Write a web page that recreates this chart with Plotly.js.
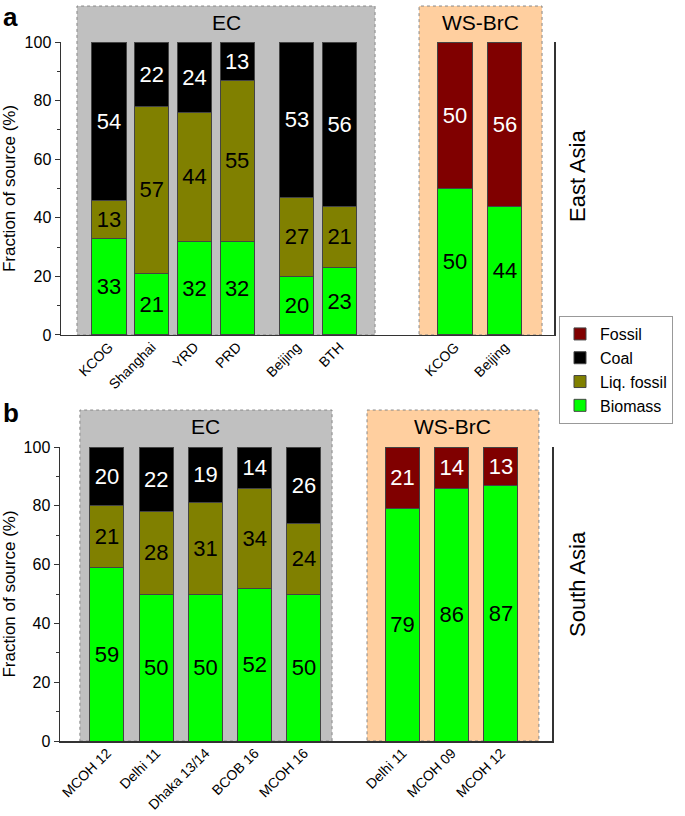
<!DOCTYPE html>
<html>
<head>
<meta charset="utf-8">
<script src="https://cdn.plot.ly/plotly-3.0.1.min.js"></script>
<style>body{margin:0;background:#fff}#plotArea{width:685px;height:816px}</style>
</head>
<body>
<div id="plotArea"></div>
<script>
// panel a: East Asia
var ecSitesA = ["KCOG", "Shanghai", "YRD", "PRD", "Beijing", "BTH"];
var ecBiomassA = [33, 21, 32, 32, 20, 23];
var ecLiqFossilA = [13, 57, 44, 55, 27, 21];
var ecCoalA = [54, 22, 24, 13, 53, 56];
var wsSitesA = ["KCOG", "Beijing"];
var wsBiomassA = [50, 44];
var wsFossilA = [50, 56];

// panel b: South Asia
var ecSitesB = ["MCOH 12", "Delhi 11", "Dhaka 13/14", "BCOB 16", "MCOH 16"];
var ecBiomassB = [59, 50, 50, 52, 50];
var ecLiqFossilB = [21, 28, 31, 34, 24];
var ecCoalB = [20, 22, 19, 14, 26];
var wsSitesB = ["Delhi 11", "MCOH 09", "MCOH 12"];
var wsBiomassB = [79, 86, 87];
var wsFossilB = [21, 14, 13];

var colors = {Fossil: "#800000", Coal: "#000000", "Liq. fossil": "#808000", Biomass: "#00ff00"};
var txtColors = {Fossil: "#ffffff", Coal: "#ffffff", "Liq. fossil": "#000000", Biomass: "#000000"};
var FONT = "Liberation Sans, Arial, sans-serif";

// bar slots along the x axis (gaps between the groups)
var posEcA = ecSitesA.map(function (d, i) { return i + (i >= 4 ? 0.4 : 0); });
var posWsA = wsSitesA.map(function (d, i) { return 8.1 + 1.17 * i; });
var posEcB = ecSitesB.map(function (d, i) { return i; });
var posWsB = wsSitesB.map(function (d, i) { return 6 + i; });

function bar(name, x, y, xa, ya, w, legend) {
  return {
    type: "bar", name: name, x: x, y: y, xaxis: xa, yaxis: ya, width: w,
    marker: {color: colors[name], line: {color: "#444", width: 1}},
    text: y.map(String), textposition: "inside", insidetextanchor: "middle",
    textangle: 0, constraintext: "none",
    textfont: {family: FONT, size: 22, color: txtColors[name]},
    showlegend: legend, legendgroup: name, hoverinfo: "x+y+name"
  };
}

var data = [
  bar("Biomass", posEcA.concat(posWsA), ecBiomassA.concat(wsBiomassA), "x", "y", 0.8, true),
  bar("Liq. fossil", posEcA, ecLiqFossilA, "x", "y", 0.8, true),
  bar("Coal", posEcA, ecCoalA, "x", "y", 0.8, true),
  bar("Fossil", posWsA, wsFossilA, "x", "y", 0.8, true),
  bar("Biomass", posEcB.concat(posWsB), ecBiomassB.concat(wsBiomassB), "x2", "y2", 0.69, false),
  bar("Liq. fossil", posEcB, ecLiqFossilB, "x2", "y2", 0.69, false),
  bar("Coal", posEcB, ecCoalB, "x2", "y2", 0.69, false),
  bar("Fossil", posWsB, wsFossilB, "x2", "y2", 0.69, false)
];

function xAxis(dom, rng, pos, labels, anchor) {
  return {
    domain: dom, range: rng, anchor: anchor, tickvals: pos, ticktext: labels,
    tickangle: -45, ticks: "", showline: true, linecolor: "#333", linewidth: 1.5,
    ticklabelstandoff: -3,
    showgrid: false, zeroline: false, tickfont: {family: FONT, size: 14, color: "#000"}
  };
}
function yAxis(dom, anchor) {
  return {
    domain: dom, range: [0, 100], anchor: anchor, tickvals: [0, 20, 40, 60, 80, 100],
    ticks: "outside", ticklen: 5, tickcolor: "#333", showline: true, mirror: true,
    linecolor: "#333", linewidth: 1.5, showgrid: false, zeroline: false,
    minor: {ticks: "outside", ticklen: 3, dtick: 10, tickcolor: "#333"},
    tickfont: {family: FONT, size: 16, color: "#000"},
    title: {text: "Fraction of source (%)", font: {family: FONT, size: 17, color: "#000"}, standoff: 4}
  };
}

function box(xa, x0, x1, y0, y1, fill) {
  return {type: "rect", xref: xa, yref: "paper", x0: x0, x1: x1, y0: y0, y1: y1,
    fillcolor: fill, line: {color: "#888", width: 1, dash: "dot"}, layer: "below"};
}
function label(text, xref, x, y, size, extra) {
  var a = {text: text, xref: xref, yref: "paper", x: x, y: y, showarrow: false,
    xanchor: "center", yanchor: "middle",
    font: {family: FONT, size: size, color: "#000"}};
  for (var k in extra) a[k] = extra[k];
  return a;
}

var gA = [posEcA[0] - 0.75, posEcA[posEcA.length - 1] + 0.83];
var wA = [posWsA[0] - 0.84, posWsA[posWsA.length - 1] + 0.87];
var gB = [posEcB[0] - 0.55, posEcB[posEcB.length - 1] + 0.57];
var wB = [posWsB[0] - 0.72, posWsB[posWsB.length - 1] + 0.77];

var layout = {
  width: 685, height: 816,
  margin: {l: 0, r: 0, t: 0, b: 0},
  paper_bgcolor: "#fff", plot_bgcolor: "rgba(0,0,0,0)",
  barmode: "stack", font: {family: FONT, color: "#000"},
  xaxis: xAxis([61 / 685, 554 / 685], [-1.124, 10.42], posEcA.concat(posWsA), ecSitesA.concat(wsSitesA), "y"),
  yaxis: yAxis([0.5895, 0.9485], "x"),
  xaxis2: xAxis([60 / 685, 552 / 685], [-0.954, 9.036], posEcB.concat(posWsB), ecSitesB.concat(wsSitesB), "y2"),
  yaxis2: yAxis([0.0919, 0.4522], "x2"),
  legend: {x: 559 / 685, y: 0.6127, xanchor: "left", yanchor: "top", traceorder: "reversed",
    bgcolor: "#fff", bordercolor: "#999", borderwidth: 1,
    font: {family: FONT, size: 16, color: "#000"}, tracegroupgap: 0},
  shapes: [
    box("x", gA[0], gA[1], 0.5895, 0.9926, "#c0c0c0"),
    box("x", wA[0], wA[1], 0.5895, 0.9926, "#ffcf9f"),
    box("x2", gB[0], gB[1], 0.0919, 0.4975, "#c0c0c0"),
    box("x2", wB[0], wB[1], 0.0919, 0.4975, "#ffcf9f")
  ],
  annotations: [
    label("<b>a</b>", "paper", 0.002, 1, 26, {xanchor: "left", yanchor: "top"}),
    label("<b>b</b>", "paper", 0.002, 1 - 413 / 816, 26, {xanchor: "left"}),
    label("EC", "x", (gA[0] + gA[1]) / 2, 1 - 22 / 816, 21, {}),
    label("WS-BrC", "x", (wA[0] + wA[1]) / 2, 1 - 22 / 816, 21, {}),
    label("EC", "x2", (gB[0] + gB[1]) / 2, 1 - 426 / 816, 21, {}),
    label("WS-BrC", "x2", (wB[0] + wB[1]) / 2, 1 - 426 / 816, 21, {}),
    label("East Asia", "paper", 577 / 685, 1 - 176 / 816, 22, {textangle: -90}),
    label("South Asia", "paper", 577 / 685, 1 - 584 / 816, 22, {textangle: -90})
  ]
};

Plotly.newPlot("plotArea", data, layout, {displayModeBar: false, staticPlot: true});
</script>
</body>
</html>
